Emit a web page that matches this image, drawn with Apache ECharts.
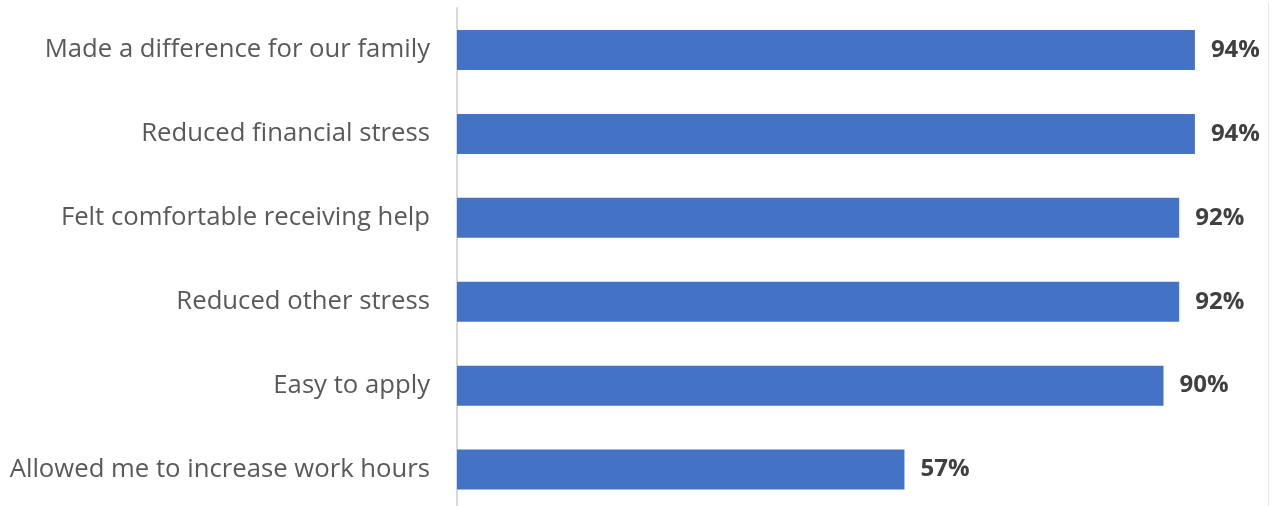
<!DOCTYPE html>
<html>
<head>
<meta charset="utf-8">
<script src="https://cdn.jsdelivr.net/npm/echarts@6/dist/echarts.min.js"></script>
<style>
html,body{margin:0;padding:0;background:#fff;overflow:hidden;width:1273px;height:506px;}
#chart{width:1273px;height:512px;}
</style>
</head>
<body>
<div id="chart"></div>
<script>
const categories = [
  "Made a difference for our family",
  "Reduced financial stress",
  "Felt comfortable receiving help",
  "Reduced other stress",
  "Easy to apply",
  "Allowed me to increase work hours"
];
const values = [94, 94, 92, 92, 90, 57];

const chart = echarts.init(document.getElementById('chart'), null, {renderer: 'canvas'});
chart.setOption({
  animation: false,
  backgroundColor: '#ffffff',
  grid: {left: 457, right: 31, top: 8, bottom: 0.5, containLabel: false, outerBoundsMode: 'none'},
  xAxis: {
    type: 'value', min: 0, max: 100,
    show: false
  },
  yAxis: {
    type: 'category',
    data: categories,
    inverse: true,
    axisLine: {show: true, lineStyle: {color: '#d9d9d9', width: 2}},
    axisTick: {show: false},
    splitLine: {show: false},
    axisLabel: {
      margin: 27,
      color: '#595959',
      fontFamily: 'Open Sans',
      fontSize: 25.7
    }
  },
  series: [{
    type: 'bar',
    data: values,
    barWidth: 40,
    itemStyle: {color: '#4472C4'},
    label: {
      show: true,
      position: 'right',
      distance: 16,
      formatter: '{c}%',
      color: '#404040',
      fontFamily: 'Open Sans',
      fontWeight: 'bold',
      fontSize: 24
    }
  }],
  graphic: [{
    type: 'line',
    right: 2,
    top: 0,
    shape: {x1: 0, y1: 0, x2: 0, y2: 512},
    style: {stroke: '#e6e6e6', lineWidth: 1}
  }]
});
</script>
</body>
</html>
